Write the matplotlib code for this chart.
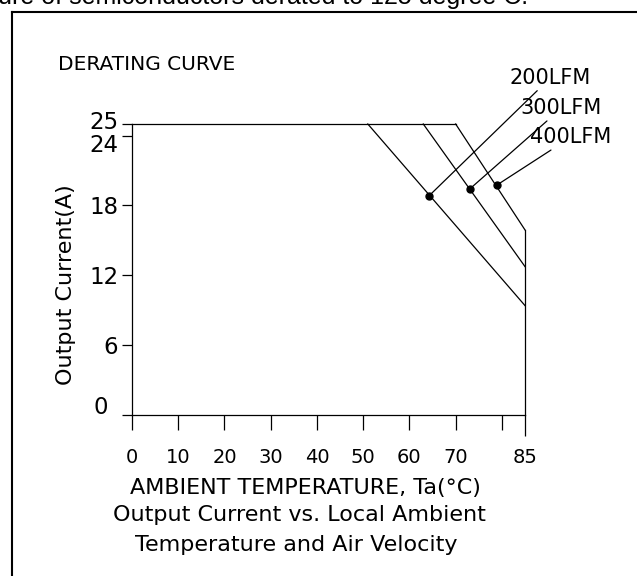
import matplotlib
matplotlib.use("Agg")
import matplotlib.pyplot as plt
import matplotlib.transforms as mtransforms
from matplotlib.lines import Line2D

# derating data
airflow = ["200LFM", "300LFM", "400LFM"]
derate_start = [51, 63, 70]          # degC where derating begins
current_max = 25                     # A, plateau
current_at_85 = [9.4, 12.75, 15.9]   # A at 85 degC
marker_temp = [64.3, 73.0, 78.9]
marker_current = [18.85, 19.4, 19.75]
label_xy = [(81.7, 28.1), (84.1, 25.5), (86.1, 23.0)]

x_ticks = [0, 10, 20, 30, 40, 50, 60, 70, 80, 85]
x_ticklabels = ["0", "10", "20", "30", "40", "50", "60", "70", "", "85"]
y_ticks = [0, 6, 12, 18, 24, 25]

plt.rcParams['font.family'] = ['DejaVu Sans']
fig = plt.figure(figsize=(6.37, 5.76), dpi=100)
ax = fig.add_axes([132/637, 1-415/576, 393/637, 291/576])

lw = 0.9
# plateau
ax.plot([0, derate_start[-1]], [current_max, current_max], color='black', lw=lw, clip_on=False)
for i in range(3):
    ax.plot([derate_start[i], 85], [current_max, current_at_85[i]],
            color='black', lw=lw, clip_on=False)
# right edge at 85 degC
ax.plot([85, 85], [0, current_at_85[-1]], color='black', lw=lw, clip_on=False)

for i in range(3):
    ax.plot(marker_temp[i], marker_current[i], 'o', color='black', ms=5, clip_on=False)
    ax.annotate(airflow[i], xy=(marker_temp[i], marker_current[i]), xytext=label_xy[i],
                textcoords='data', ha='left', va='bottom', fontsize=15,
                arrowprops=dict(arrowstyle='-', color='black', lw=lw,
                                shrinkA=0, shrinkB=0),
                annotation_clip=False)

ax.set_xlim(0, 85)
ax.set_ylim(0, 25)
for s in ['top', 'right']:
    ax.spines[s].set_visible(False)
for s in ['left', 'bottom']:
    ax.spines[s].set_linewidth(lw)

ax.set_xticks(x_ticks)
ax.set_xticklabels(x_ticklabels, fontsize=14)
ax.set_yticks(y_ticks)
ax.set_yticklabels([str(v) for v in y_ticks], fontsize=16.5)
ax.tick_params(axis='x', direction='out', length=11, width=lw, pad=13)
ax.tick_params(axis='y', direction='out', length=7, width=lw, pad=3)
ax.xaxis.get_major_ticks()[-1].tick1line.set_markersize(15)

# nudge the crowded 24/25 labels apart
ylabels = ax.get_yticklabels()
ylabels[5].set_transform(ylabels[5].get_transform() +
                         mtransforms.ScaledTranslation(0, 3/72, fig.dpi_scale_trans))
ylabels[4].set_transform(ylabels[4].get_transform() +
                         mtransforms.ScaledTranslation(0, -5.5/72, fig.dpi_scale_trans))
ylabels[0].set_transform(ylabels[0].get_transform() +
                         mtransforms.ScaledTranslation(-7/72, 7/72, fig.dpi_scale_trans))

fig.text(66/637, 1-285/576, "Output Current(A)", rotation=90, ha='center', va='center', fontsize=16)
fig.text(130/637, 1-488/576, "AMBIENT TEMPERATURE, Ta(°C)", ha='left', va='center', fontsize=16)
fig.text(113/637, 1-515/576, "Output Current vs. Local Ambient", ha='left', va='center', fontsize=16)
fig.text(135/637, 1-545/576, "Temperature and Air Velocity", ha='left', va='center', fontsize=16)
fig.text(58/637, 1-65/576, "DERATING CURVE", ha='left', va='center', fontsize=14.5)

# caption above the frame, cut off at the top edge as in the source
fig.text(-2/637, 1-4/576, "ure of semiconductors derated to 125 degree C.",
         ha='left', va='baseline', fontsize=18, family='Liberation Sans')

# outer frame
fig.add_artist(Line2D([12/637, 12/637], [0, 1-12/576], color='black', lw=1.5))
fig.add_artist(Line2D([12/637, 1], [1-12/576, 1-12/576], color='black', lw=1.5))

fig.savefig("out.png", dpi=100)
